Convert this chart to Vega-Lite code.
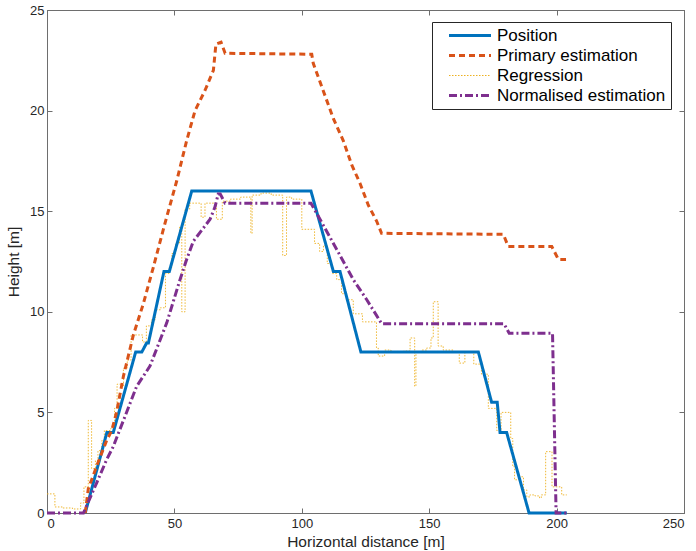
{
  "$schema": "https://vega.github.io/schema/vega-lite/v6.json",
  "autosize": {"type": "none"},
  "padding": {"left": 47, "top": 10, "right": 12, "bottom": 38},
  "width": 637,
  "height": 503,
  "background": "white",
  "config": {
    "font": "Liberation Sans",
    "view": {"stroke": "#6e6e6e", "strokeWidth": 1},
    "axis": {
      "grid": false,
      "domainColor": "#6e6e6e",
      "tickColor": "#6e6e6e",
      "labelColor": "#262626",
      "titleColor": "#262626",
      "labelFont": "Liberation Sans",
      "titleFont": "Liberation Sans",
      "labelFontSize": 13,
      "titleFontSize": 15.5,
      "titleFontWeight": "normal",
      "tickSize": -5
    }
  },
  "datasets": {
    "lines": [
      {"s": "Position", "x": 15, "y": 0},
      {"s": "Position", "x": 23.5, "y": 4},
      {"s": "Position", "x": 26, "y": 4},
      {"s": "Position", "x": 34.8, "y": 8},
      {"s": "Position", "x": 37.2, "y": 8},
      {"s": "Position", "x": 39.1, "y": 8.45},
      {"s": "Position", "x": 39.8, "y": 8.45},
      {"s": "Position", "x": 45.9, "y": 12},
      {"s": "Position", "x": 48, "y": 12},
      {"s": "Position", "x": 56.8, "y": 16},
      {"s": "Position", "x": 103.6, "y": 16},
      {"s": "Position", "x": 112.4, "y": 12},
      {"s": "Position", "x": 115, "y": 12},
      {"s": "Position", "x": 123.2, "y": 8},
      {"s": "Position", "x": 169.3, "y": 8},
      {"s": "Position", "x": 174.5, "y": 5.5},
      {"s": "Position", "x": 176.7, "y": 5.5},
      {"s": "Position", "x": 177.8, "y": 4},
      {"s": "Position", "x": 180.4, "y": 4},
      {"s": "Position", "x": 189.2, "y": 0},
      {"s": "Position", "x": 204, "y": 0},

      {"s": "Primary estimation", "x": 15, "y": 0},
      {"s": "Primary estimation", "x": 16.2, "y": 1.2},
      {"s": "Primary estimation", "x": 20, "y": 2.5},
      {"s": "Primary estimation", "x": 23.4, "y": 3.6},
      {"s": "Primary estimation", "x": 25.4, "y": 4.1},
      {"s": "Primary estimation", "x": 27.3, "y": 5},
      {"s": "Primary estimation", "x": 30, "y": 6.8},
      {"s": "Primary estimation", "x": 33.9, "y": 8.85},
      {"s": "Primary estimation", "x": 37.8, "y": 10.4},
      {"s": "Primary estimation", "x": 41.7, "y": 12.2},
      {"s": "Primary estimation", "x": 46.3, "y": 14.4},
      {"s": "Primary estimation", "x": 50.9, "y": 16.5},
      {"s": "Primary estimation", "x": 54.8, "y": 18.5},
      {"s": "Primary estimation", "x": 58.1, "y": 20},
      {"s": "Primary estimation", "x": 62, "y": 21},
      {"s": "Primary estimation", "x": 65.3, "y": 22},
      {"s": "Primary estimation", "x": 66.3, "y": 23.3},
      {"s": "Primary estimation", "x": 68.3, "y": 23.4},
      {"s": "Primary estimation", "x": 69.9, "y": 22.85},
      {"s": "Primary estimation", "x": 103.9, "y": 22.8},
      {"s": "Primary estimation", "x": 104.5, "y": 22.35},
      {"s": "Primary estimation", "x": 107.8, "y": 21.2},
      {"s": "Primary estimation", "x": 112.4, "y": 19.6},
      {"s": "Primary estimation", "x": 116.3, "y": 18.5},
      {"s": "Primary estimation", "x": 119.6, "y": 17.3},
      {"s": "Primary estimation", "x": 122.8, "y": 16.4},
      {"s": "Primary estimation", "x": 126.1, "y": 15.3},
      {"s": "Primary estimation", "x": 129.4, "y": 14.5},
      {"s": "Primary estimation", "x": 131.3, "y": 13.9},
      {"s": "Primary estimation", "x": 179.1, "y": 13.85},
      {"s": "Primary estimation", "x": 181, "y": 13.25},
      {"s": "Primary estimation", "x": 198.1, "y": 13.25},
      {"s": "Primary estimation", "x": 200.7, "y": 12.6},
      {"s": "Primary estimation", "x": 203.7, "y": 12.6},

      {"s": "Normalised estimation", "x": 0, "y": 0},
      {"s": "Normalised estimation", "x": 14.3, "y": 0},
      {"s": "Normalised estimation", "x": 19.5, "y": 1.5},
      {"s": "Normalised estimation", "x": 23.4, "y": 2.65},
      {"s": "Normalised estimation", "x": 26, "y": 3.3},
      {"s": "Normalised estimation", "x": 30.3, "y": 4.7},
      {"s": "Normalised estimation", "x": 35.2, "y": 6.3},
      {"s": "Normalised estimation", "x": 40.4, "y": 7.3},
      {"s": "Normalised estimation", "x": 47, "y": 9.45},
      {"s": "Normalised estimation", "x": 52.2, "y": 11.6},
      {"s": "Normalised estimation", "x": 54.8, "y": 12.6},
      {"s": "Normalised estimation", "x": 57.4, "y": 13.5},
      {"s": "Normalised estimation", "x": 64, "y": 14.6},
      {"s": "Normalised estimation", "x": 65.9, "y": 15.2},
      {"s": "Normalised estimation", "x": 67.2, "y": 15.85},
      {"s": "Normalised estimation", "x": 68, "y": 15.85},
      {"s": "Normalised estimation", "x": 69.9, "y": 15.4},
      {"s": "Normalised estimation", "x": 103.6, "y": 15.4},
      {"s": "Normalised estimation", "x": 104.5, "y": 15.2},
      {"s": "Normalised estimation", "x": 113.7, "y": 13.1},
      {"s": "Normalised estimation", "x": 120.2, "y": 11.6},
      {"s": "Normalised estimation", "x": 125.5, "y": 10.6},
      {"s": "Normalised estimation", "x": 131.4, "y": 9.4},
      {"s": "Normalised estimation", "x": 179.4, "y": 9.4},
      {"s": "Normalised estimation", "x": 181.4, "y": 8.93},
      {"s": "Normalised estimation", "x": 198.4, "y": 8.93},
      {"s": "Normalised estimation", "x": 199.8, "y": 0},
      {"s": "Normalised estimation", "x": 204, "y": 0}
    ],
    "reg": [
      {"s": "Regression", "x": 0, "y": 0.95},
      {"s": "Regression", "x": 3.1, "y": 0.3},
      {"s": "Regression", "x": 6, "y": 0.25},
      {"s": "Regression", "x": 10, "y": 0.2},
      {"s": "Regression", "x": 13.2, "y": 0.5},
      {"s": "Regression", "x": 14.5, "y": 1.3},
      {"s": "Regression", "x": 16.2, "y": 4.6},
      {"s": "Regression", "x": 17.5, "y": 2.2},
      {"s": "Regression", "x": 19, "y": 2.6},
      {"s": "Regression", "x": 20, "y": 3.1},
      {"s": "Regression", "x": 21.5, "y": 3.6},
      {"s": "Regression", "x": 22.5, "y": 4.1},
      {"s": "Regression", "x": 25, "y": 4.2},
      {"s": "Regression", "x": 26.5, "y": 5.2},
      {"s": "Regression", "x": 27.5, "y": 6.4},
      {"s": "Regression", "x": 29, "y": 6.3},
      {"s": "Regression", "x": 30, "y": 7.2},
      {"s": "Regression", "x": 31.5, "y": 7.6},
      {"s": "Regression", "x": 33, "y": 8.85},
      {"s": "Regression", "x": 37.5, "y": 8.5},
      {"s": "Regression", "x": 39, "y": 9.3},
      {"s": "Regression", "x": 41, "y": 9.6},
      {"s": "Regression", "x": 42.5, "y": 10.1},
      {"s": "Regression", "x": 44.5, "y": 10.2},
      {"s": "Regression", "x": 46.5, "y": 11.9},
      {"s": "Regression", "x": 48, "y": 12.2},
      {"s": "Regression", "x": 49, "y": 12.9},
      {"s": "Regression", "x": 50.5, "y": 13.4},
      {"s": "Regression", "x": 52, "y": 14.2},
      {"s": "Regression", "x": 52.9, "y": 10.0},
      {"s": "Regression", "x": 54.2, "y": 15.1},
      {"s": "Regression", "x": 56, "y": 15.4},
      {"s": "Regression", "x": 60.5, "y": 14.7},
      {"s": "Regression", "x": 62, "y": 15.4},
      {"s": "Regression", "x": 66.5, "y": 14.6},
      {"s": "Regression", "x": 68.8, "y": 15.5},
      {"s": "Regression", "x": 72, "y": 15.6},
      {"s": "Regression", "x": 76, "y": 15.7},
      {"s": "Regression", "x": 80, "y": 13.9},
      {"s": "Regression", "x": 80.5, "y": 15.8},
      {"s": "Regression", "x": 84, "y": 15.9},
      {"s": "Regression", "x": 88, "y": 15.8},
      {"s": "Regression", "x": 92.5, "y": 12.8},
      {"s": "Regression", "x": 94, "y": 15.7},
      {"s": "Regression", "x": 96, "y": 15.6},
      {"s": "Regression", "x": 100, "y": 14.1},
      {"s": "Regression", "x": 105, "y": 13.4},
      {"s": "Regression", "x": 107, "y": 13.0},
      {"s": "Regression", "x": 108.5, "y": 13.3},
      {"s": "Regression", "x": 110, "y": 12.4},
      {"s": "Regression", "x": 112, "y": 11.9},
      {"s": "Regression", "x": 113.7, "y": 11.6},
      {"s": "Regression", "x": 115.6, "y": 10.9},
      {"s": "Regression", "x": 117.6, "y": 10.6},
      {"s": "Regression", "x": 120.2, "y": 9.9},
      {"s": "Regression", "x": 123.8, "y": 9.5},
      {"s": "Regression", "x": 129.3, "y": 8.2},
      {"s": "Regression", "x": 130, "y": 7.8},
      {"s": "Regression", "x": 132.5, "y": 8.1},
      {"s": "Regression", "x": 135, "y": 8.0},
      {"s": "Regression", "x": 140, "y": 8.05},
      {"s": "Regression", "x": 142.5, "y": 8.7},
      {"s": "Regression", "x": 144.3, "y": 6.3},
      {"s": "Regression", "x": 144.8, "y": 8.0},
      {"s": "Regression", "x": 147, "y": 8.1},
      {"s": "Regression", "x": 149, "y": 8.2},
      {"s": "Regression", "x": 150.7, "y": 8.7},
      {"s": "Regression", "x": 151.6, "y": 10.5},
      {"s": "Regression", "x": 153.5, "y": 8.3},
      {"s": "Regression", "x": 155.5, "y": 8.1},
      {"s": "Regression", "x": 159.4, "y": 8.0},
      {"s": "Regression", "x": 161.8, "y": 7.45},
      {"s": "Regression", "x": 164, "y": 8.0},
      {"s": "Regression", "x": 167.5, "y": 7.4},
      {"s": "Regression", "x": 170.5, "y": 6.9},
      {"s": "Regression", "x": 173.2, "y": 5.2},
      {"s": "Regression", "x": 176.5, "y": 4.1},
      {"s": "Regression", "x": 178.2, "y": 5.0},
      {"s": "Regression", "x": 182, "y": 3.7},
      {"s": "Regression", "x": 182.8, "y": 2.3},
      {"s": "Regression", "x": 183.5, "y": 1.65},
      {"s": "Regression", "x": 185.5, "y": 1.8},
      {"s": "Regression", "x": 187, "y": 1.15},
      {"s": "Regression", "x": 188.3, "y": 0.8},
      {"s": "Regression", "x": 189.5, "y": 0.9},
      {"s": "Regression", "x": 191.5, "y": 0.85},
      {"s": "Regression", "x": 193.3, "y": 0.75},
      {"s": "Regression", "x": 194, "y": 0.9},
      {"s": "Regression", "x": 195.7, "y": 3.05},
      {"s": "Regression", "x": 198.2, "y": 1.3},
      {"s": "Regression", "x": 200.7, "y": 1.3},
      {"s": "Regression", "x": 202, "y": 0.9},
      {"s": "Regression", "x": 204, "y": 0.9}
    ]
  },
  "encoding": {
    "x": {
      "field": "x", "type": "quantitative",
      "scale": {"domain": [0, 250], "nice": false, "zero": false},
      "axis": {"values": [0, 50, 100, 150, 200, 250], "title": "Horizontal distance [m]", "labelPadding": 9, "titlePadding": 4}
    },
    "y": {
      "field": "y", "type": "quantitative",
      "scale": {"domain": [0, 25], "nice": false, "zero": false},
      "axis": {"values": [0, 5, 10, 15, 20, 25], "title": "Height [m]", "labelPadding": 8, "titlePadding": 8}
    },
    "color": {
      "field": "s", "type": "nominal",
      "scale": {
        "domain": ["Position", "Primary estimation", "Regression", "Normalised estimation"],
        "range": ["#0072BD", "#D95319", "#EDB120", "#7E2F8E"]
      },
      "legend": {
        "title": null,
        "orient": "none",
        "legendX": 385,
        "legendY": 12,
        "direction": "vertical",
        "strokeColor": "#262626",
        "fillColor": "white",
        "padding": 5,
        "labelFontSize": 17,
        "labelColor": "#000000",
        "labelFont": "Liberation Sans",
        "labelLimit": 400,
        "labelOffset": 43,
        "symbolType": "M0.5,0H6.5",
        "symbolSize": 196,
        "rowPadding": 2,
        "encode": {
          "symbols": {
            "update": {
              "strokeWidth": {"signal": "datum.value === 'Regression' ? 1 : 3"},
              "fill": {"value": "transparent"}
            }
          }
        }
      }
    },
    "strokeDash": {
      "field": "s", "type": "nominal",
      "scale": {
        "domain": ["Position", "Primary estimation", "Regression", "Normalised estimation"],
        "range": [[1, 0], [6, 4], [1.5, 1.5], [8, 3, 2, 3]]
      },
      "legend": null
    }
  },
  "layer": [
    {
      "data": {"name": "reg"},
      "mark": {"type": "line", "interpolate": "step-after", "strokeWidth": 0.9}
    },
    {
      "data": {"name": "lines"},
      "mark": {"type": "line", "interpolate": "linear", "strokeWidth": 3},
      "encoding": {
        "x": {"field": "x", "type": "quantitative", "axis": null},
        "y": {"field": "y", "type": "quantitative", "axis": null}
      }
    },
    {
      "data": {"name": "lines"},
      "mark": {"type": "point", "opacity": 0},
      "encoding": {
        "x": {
          "field": "x", "type": "quantitative",
          "axis": {"orient": "top", "values": [0, 50, 100, 150, 200, 250], "labels": false, "title": null}
        },
        "y": {
          "field": "y", "type": "quantitative",
          "axis": {"orient": "right", "values": [0, 5, 10, 15, 20, 25], "labels": false, "title": null}
        },
        "color": {"value": "transparent"},
        "strokeDash": {"value": [1, 0]}
      }
    }
  ],
  "resolve": {"axis": {"x": "independent", "y": "independent"}}
}
